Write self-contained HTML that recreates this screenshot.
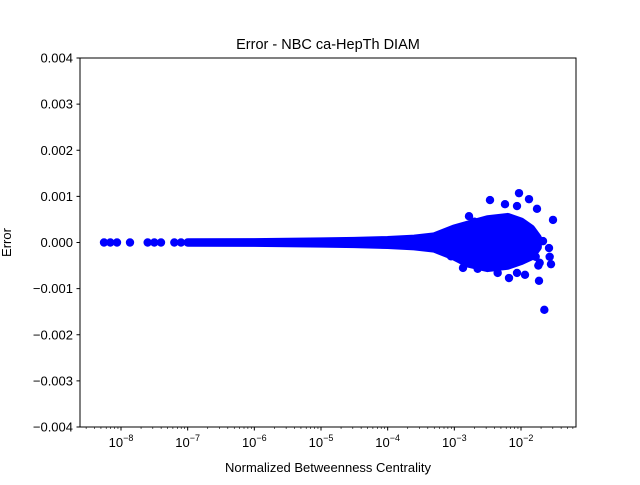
<!DOCTYPE html>
<html><head><meta charset="utf-8"><style>
body{margin:0;background:#fff;}
svg text{font-family:"Liberation Sans","DejaVu Sans",sans-serif;fill:#000;}
</style></head><body>
<svg id="chart" width="640" height="480" xmlns="http://www.w3.org/2000/svg">
<rect width="640" height="480" fill="#fff"/>
<text x="328" y="49" font-size="14.5" text-anchor="middle">Error - NBC ca-HepTh DIAM</text>
<g id="marks"></g>
<g id="axes"></g>
<rect x="80" y="58" width="496" height="369" fill="none" stroke="#000" stroke-width="1"/>
<text x="328" y="472" font-size="13" text-anchor="middle">Normalized Betweenness Centrality</text>
<text x="0" y="0" font-size="13" text-anchor="middle" transform="translate(11,242.5) rotate(-90)">Error</text>
</svg>
<script>
const xDecades=[-8,-7,-6,-5,-4,-3,-2];
const yTicks=[-0.004,-0.003,-0.002,-0.001,0,0.001,0.002,0.003,0.004];
// sparse points (log10 x, error)
const ptLogX=[-8.255,-8.16,-8.06,-7.865,-7.6,-7.5,-7.4,-7.2,-7.1,-2.03,-1.88,-2.465,-2.24,-2.06,-1.76,-2.78,-1.52,-1.67,-1.58,-1.57,-1.55,-1.78,-1.72,-1.74,-1.94,-2.06,-2.18,-1.73,-1.65,-2.87,-2.65,-2.7,-3.05,-2.35];
const ptErr=[0,0,0,0,0,0,0,0,0,0.00107,0.00094,0.00092,0.00083,0.00079,0.00073,0.00057,0.00049,0.00003,-0.00012,-0.00031,-0.00047,-0.00031,-0.00044,-0.0005,-0.0007,-0.00066,-0.00077,-0.00083,-0.00146,-0.00055,-0.00057,0.00045,-0.0003,-0.00066];
// dense core envelope
const envLogX=[-7.0,-6,-5,-4.5,-4,-3.6,-3.3,-3.0,-2.8,-2.5,-2.2,-2.0,-1.85,-1.75];
const envTop=[0,0.000005,0.00002,0.00003,0.00005,0.00008,0.00013,0.0003,0.00038,0.0005,0.00055,0.00045,0.0003,0.0001];
const envBot=[0,-0.000005,-0.00002,-0.00003,-0.00005,-0.00008,-0.00013,-0.0003,-0.00045,-0.00055,-0.0005,-0.0004,-0.0003,-0.0001];
const L=80,R=576,T=58,B=427;
const xMin=-8.615,xMax=-1.175,yMin=-0.004,yMax=0.004;
function X(lx){return L+(lx-xMin)/(xMax-xMin)*(R-L);}
function Y(v){return B-(v-yMin)/(yMax-yMin)*(B-T);}
const NS="http://www.w3.org/2000/svg";
const marks=document.getElementById('marks'),axes=document.getElementById('axes');
function mk(tag,attrs,parent){const e=document.createElementNS(NS,tag);for(const k in attrs)e.setAttribute(k,attrs[k]);parent.appendChild(e);return e;}
let pts=envLogX.map((lx,i)=>X(lx)+','+Y(envTop[i]));
for(let i=envLogX.length-1;i>=0;i--)pts.push(X(envLogX[i])+','+Y(envBot[i]));
const core=mk('polygon',{points:pts.join(' '),fill:'#0000ff',stroke:'#0000ff','stroke-width':8.4,'stroke-linejoin':'round'},marks);


ptLogX.forEach((lx,i)=>{
 const c=mk('circle',{cx:X(lx),cy:Y(ptErr[i]),r:4.2,fill:'#0000ff'},marks);
 
 
});
xDecades.forEach(d=>{
 const x=X(d);
 mk('line',{x1:x,x2:x,y1:B,y2:B+3.5,stroke:'#000'},axes);
 const t=mk('text',{x:x,y:B+20,'font-size':13,'text-anchor':'middle'},axes);
 
 
 t.innerHTML='10<tspan dy="-6" font-size="9">'+(d<0?'\u2212':'')+Math.abs(d)+'</tspan>';
});
for(let d=-9;d<=-1;d++){for(let m=2;m<=9;m++){const lx=d+Math.log10(m);if(lx<xMin||lx>xMax)continue;const x=X(lx);mk('line',{x1:x,x2:x,y1:B,y2:B+2,stroke:'#000','stroke-width':0.6},axes);}}
yTicks.forEach(v=>{
 const y=Y(v);
 mk('line',{x1:L-3.5,x2:L,y1:y,y2:y,stroke:'#000'},axes);
 const t=mk('text',{x:L-7,y:y+4.5,'font-size':13,'text-anchor':'end'},axes);
 
 
 t.textContent=(v<0?'\u2212':'')+Math.abs(v).toFixed(3);
});
</script>
</body></html>
